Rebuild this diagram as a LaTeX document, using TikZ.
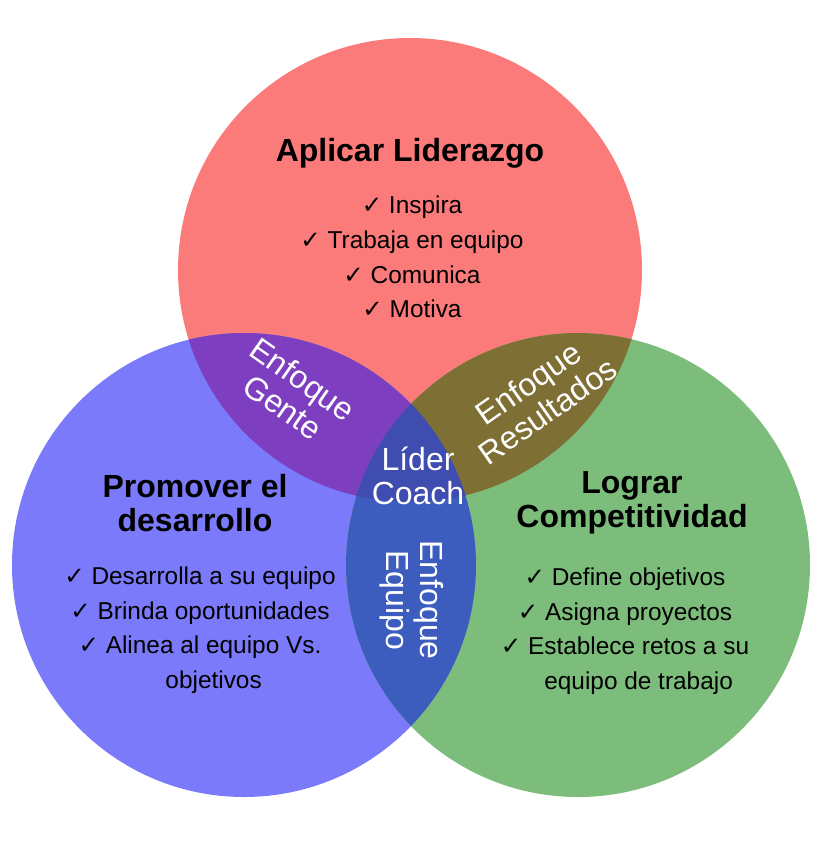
\documentclass[tikz,border=0pt]{standalone}
\usepackage{fontspec}
\setmainfont{Liberation Sans}
\newfontfamily\symfont{DejaVu Sans}
\newcommand{\ck}{{\symfont ✓}\ }
\definecolor{cRed}{HTML}{FA7B7A}
\definecolor{cBlue}{HTML}{7A7AFA}
\definecolor{cGreen}{HTML}{7CBD7C}
\definecolor{cRB}{HTML}{7D3FBF}
\definecolor{cRG}{HTML}{7E6F35}
\definecolor{cBG}{HTML}{3C5CBE}
\definecolor{cAll}{HTML}{3F4CB0}

\begin{document}
\begin{tikzpicture}[x=0.5pt, y=-0.5pt,
  title/.style={font=\fontsize{16}{17}\selectfont\bfseries, align=center},
  item/.style={font=\fontsize{12.2}{17.3}\selectfont, align=center},
  zone/.style={font=\fontsize{16}{17}\selectfont, text=white, align=center}]

\useasboundingbox (0,0) rectangle (820,842);
\fill[white] (0,0) rectangle (820,842);

%------------------ CIRCLES ------------------%
\coordinate (cR) at (410,270);
\coordinate (cB) at (244,565);
\coordinate (cG) at (578,565);
\fill[cRed] (cR) circle[radius=116pt];
\fill[cBlue] (cB) circle[radius=116pt];
\fill[cGreen] (cG) circle[radius=116pt];

\begin{scope}
  \clip (cR) circle[radius=116pt];
  \fill[cRB] (cB) circle[radius=116pt];
  \fill[cRG] (cG) circle[radius=116pt];
  \clip (cB) circle[radius=116pt];
  \fill[cAll] (cG) circle[radius=116pt];
\end{scope}
\begin{scope}
  \clip (cB) circle[radius=116pt];
  \clip (cG) circle[radius=116pt];
  \fill[cBG] (410,560) circle[radius=150pt];
  \clip (cR) circle[radius=116pt];
  \fill[cAll] (410,560) circle[radius=150pt];
\end{scope}

%------------------ TEXTS ------------------%
\node[title] (tR) at (410,153) {Aplicar Liderazgo};
\node[item] (lR) at (412,257) {\ck Inspira\\ \ck Trabaja en equipo\\ \ck Comunica\\ \ck Motiva};

\node[title] (tB) at (195,503) {Promover el\\ desarrollo};
\node[item] (lB) at (200,630) {\ck Desarrolla a su equipo\\ \ck Brinda oportunidades\\ \ck Alinea al equipo Vs.\\ \phantom{\ck}objetivos};

\node[title] (tG) at (632,503) {Lograr\\ Competitividad};
\node[item] (lG) at (625,631) {\ck Define objetivos\\ \ck Asigna proyectos\\ \ck Establece retos a su\\ \phantom{\ck}equipo de trabajo};

\node[zone, rotate=-35] (zRB) at (293,393) {Enfoque\\ Gente};
\node[zone, rotate=35] (zRG) at (538,397) {Enfoque\\ Resultados};
\node[zone, rotate=-90] (zBG) at (412,600) {Enfoque\\ Equipo};
\node[zone] (zAll) at (418,476) {Líder\\ Coach};

\end{tikzpicture}
\end{document}
